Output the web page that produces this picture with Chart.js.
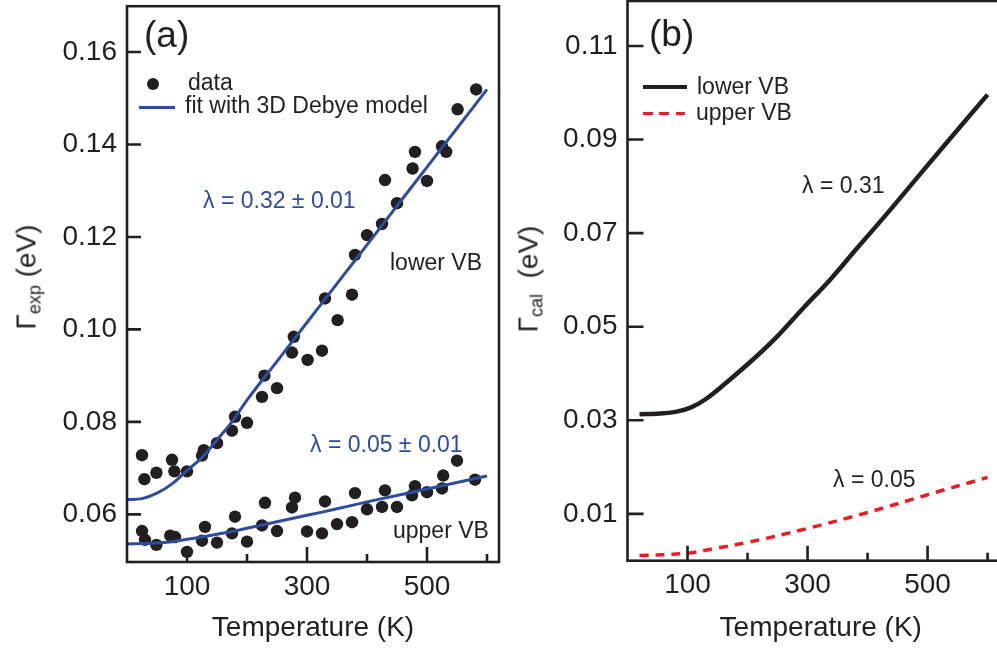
<!DOCTYPE html>
<html>
<head>
<meta charset="utf-8">
<script src="https://cdn.jsdelivr.net/npm/chart.js@4.4.1/dist/chart.umd.min.js"></script>
<style>
html, body { margin:0; padding:0; background:#fff; overflow:hidden; width:997px; height:651px; }
#wrap { position:relative; width:997px; height:651px; overflow:hidden; font-family:"Liberation Sans", Arial, sans-serif; color:#231f20; }
.box { position:absolute; top:0; height:651px; }
.lbl { position:absolute; white-space:nowrap; line-height:1; }
.ytitle { position:absolute; white-space:nowrap; line-height:1; font-size:28px; transform:translate(-50%,-50%) rotate(-90deg); }
.ytitle sub { font-size:18px; vertical-align:-5px; }
.mark { position:absolute; }
</style>
</head>
<body>
<div id="wrap">
  <div class="box" style="left:0;width:510px"><canvas id="chartA"></canvas></div>
  <div class="box" style="left:510px;width:504px"><canvas id="chartB"></canvas></div>
</div>
<script>
// (a) measured linewidths, lower VB
const lowerT     = [25, 29, 49, 75, 79, 100, 125, 128, 150, 175, 180, 200, 225, 229, 250, 275, 278, 301, 325, 330, 351, 375, 380, 400, 425, 430, 450, 476, 480, 500, 525, 532, 551, 582];
const lowerGamma = [0.0728, 0.0676, 0.0690, 0.0718, 0.0693, 0.0693, 0.0727, 0.0739, 0.0754, 0.0781, 0.0811, 0.0798, 0.0854, 0.0900, 0.0873, 0.0950, 0.0984, 0.0934, 0.0954, 0.1067, 0.1020, 0.1075, 0.1161, 0.1204, 0.1228, 0.1323, 0.1273, 0.1348, 0.1384, 0.1321, 0.1396, 0.1384, 0.1476, 0.1519];
// (a) measured linewidths, upper VB
const upperT     = [25, 30, 49, 72, 80, 100, 125, 130, 150, 175, 180, 200, 225, 230, 250, 275, 280, 300, 325, 330, 350, 375, 380, 400, 425, 430, 450, 475, 480, 500, 525, 527, 550, 580];
const upperGamma = [0.0564, 0.0545, 0.0534, 0.0554, 0.0551, 0.0519, 0.0543, 0.0573, 0.0539, 0.0559, 0.0595, 0.0541, 0.0576, 0.0625, 0.0564, 0.0615, 0.0636, 0.0563, 0.0559, 0.0628, 0.0579, 0.0583, 0.0646, 0.0611, 0.0616, 0.0652, 0.0616, 0.0641, 0.0661, 0.0648, 0.0656, 0.0684, 0.0716, 0.0675];
// (a) Debye fits
const fitT        = [0, 25, 50, 75, 100, 125, 150, 175, 200, 250, 300, 350, 400, 450, 500, 550, 600];
const lowerFit    = [0.0632, 0.0634, 0.0646, 0.0666, 0.0695, 0.0723, 0.0761, 0.0800, 0.0847, 0.0931, 0.1015, 0.1099, 0.1183, 0.1267, 0.1351, 0.1435, 0.1519];
const upperFit    = [0.0536, 0.0537, 0.0538, 0.0541, 0.0546, 0.0551, 0.0557, 0.0563, 0.0570, 0.0584, 0.0598, 0.0612, 0.0627, 0.0641, 0.0655, 0.0669, 0.0683];
// (b) calculated
const calLowerT     = [20, 50, 80, 105, 130, 165, 210, 250, 293, 338, 382, 426, 451, 525, 600];
const calLowerGamma = [0.0313, 0.0314, 0.0318, 0.0327, 0.0345, 0.0381, 0.0431, 0.0480, 0.0540, 0.0601, 0.0667, 0.0732, 0.0770, 0.0883, 0.0996];
const calUpperT     = [20, 100, 149, 200, 300, 400, 500, 600];
const calUpperGamma = [0.0011, 0.0016, 0.0027, 0.0039, 0.0069, 0.0103, 0.0141, 0.0178];
// ticks
const tempTicks   = [100, 200, 300, 400, 500, 600];
const tempLabels  = [100, 300, 500];
const gammaTicksA = [0.06, 0.08, 0.10, 0.12, 0.14, 0.16];
const gammaTicksB = [0.01, 0.03, 0.05, 0.07, 0.09, 0.11];

const ink = '#231f20', blue = '#2c4d9f', red = '#ed1c24';
const FONT = '"Liberation Sans", Arial, sans-serif';
const pts = (xs, ys) => xs.map((x, i) => ({ x, y: ys[i] }));

// frame box + inward tick marks
const frameTicks = {
  id: 'frameTicks',
  afterDraw(chart, args, opts) {
    const { ctx, chartArea: a, scales: { x, y } } = chart;
    ctx.save();
    ctx.strokeStyle = ink;
    ctx.lineWidth = 2.6;
    ctx.beginPath();
    tempTicks.forEach(t => {
      const px = x.getPixelForValue(t);
      const len = tempLabels.includes(t) ? 15 : 8;
      ctx.moveTo(px, a.bottom); ctx.lineTo(px, a.bottom - len);
    });
    opts.yTicks.forEach(v => {
      const py = y.getPixelForValue(v);
      ctx.moveTo(a.left, py); ctx.lineTo(a.left + opts.yLen, py);
    });
    ctx.stroke();
    ctx.strokeRect(a.left, a.top, a.right - a.left, a.bottom - a.top);
    ctx.restore();
  }
};

function makeScales(xMax, yMin, yMax, yTicks, xHeight, yWidth) {
  return {
    x: {
      type: 'linear', min: 0, max: xMax,
      afterFit: s => { s.height = xHeight; s.paddingLeft = 0; s.paddingRight = 0; },
      afterBuildTicks: s => { s.ticks = tempTicks.map(v => ({ value: v })); },
      grid: { display: false, drawTicks: false },
      border: { display: false },
      ticks: { autoSkip: false, maxRotation: 0, padding: 8, color: ink, font: { family: FONT, size: 28 },
               callback: v => tempLabels.includes(v) ? String(v) : '' },
      title: { display: true, text: 'Temperature (K)', color: ink, font: { family: FONT, size: 28 }, padding: { top: 0, bottom: 6 } }
    },
    y: {
      type: 'linear', min: yMin, max: yMax,
      afterFit: s => { s.width = yWidth; s.paddingTop = 0; s.paddingBottom = 0; },
      afterBuildTicks: s => { s.ticks = yTicks.map(v => ({ value: v })); },
      grid: { display: false, drawTicks: false },
      border: { display: false },
      ticks: { padding: 10, color: ink, font: { family: FONT, size: 28 }, callback: v => v.toFixed(2) }
    }
  };
}

new Chart(document.getElementById('chartA'), {
  type: 'scatter',
  data: {
    datasets: [
      { label: 'fit lower', data: pts(fitT, lowerFit), showLine: true, borderColor: blue, borderWidth: 3, pointRadius: 0, tension: 0.4, order: 0 },
      { label: 'fit upper', data: pts(fitT, upperFit), showLine: true, borderColor: blue, borderWidth: 3, pointRadius: 0, tension: 0.4, order: 0 },
      { label: 'lower VB', data: pts(lowerT, lowerGamma), backgroundColor: ink, borderWidth: 0, pointRadius: 6.2, order: 1 },
      { label: 'upper VB', data: pts(upperT, upperGamma), backgroundColor: ink, borderWidth: 0, pointRadius: 6.2, order: 1 }
    ]
  },
  options: {
    responsive: true, maintainAspectRatio: false, animation: false, devicePixelRatio: 1,
    layout: { padding: { top: 1, right: 11, left: 0, bottom: 0 } },
    plugins: { legend: { display: false }, tooltip: { enabled: false }, frameTicks: { yTicks: gammaTicksA, yLen: 14 } },
    scales: makeScales(620, 0.0497, 0.1699, gammaTicksA, 89, 127)
  },
  plugins: [frameTicks]
});

new Chart(document.getElementById('chartB'), {
  type: 'scatter',
  data: {
    datasets: [
      { label: 'lower VB', data: pts(calLowerT, calLowerGamma), showLine: true, borderColor: ink, borderWidth: 4.5, pointRadius: 0, tension: 0.4 },
      { label: 'upper VB', data: pts(calUpperT, calUpperGamma), showLine: true, borderColor: red, borderWidth: 3.5, borderDash: [9, 7], pointRadius: 0, tension: 0.4 }
    ]
  },
  options: {
    responsive: true, maintainAspectRatio: false, animation: false, devicePixelRatio: 1,
    layout: { padding: { top: 1, right: 0, left: 0, bottom: 0 } },
    plugins: { legend: { display: false }, tooltip: { enabled: false }, frameTicks: { yTicks: gammaTicksB, yLen: 16 } },
    scales: makeScales(644, 0, 0.1196, gammaTicksB, 90.3, 117.5)
  },
  plugins: [frameTicks]
});

// text overlays: x = left edge, y = baseline
const wrap = document.getElementById('wrap');
function addText(html, x, base, size, color) {
  const d = document.createElement('div');
  d.className = 'lbl';
  d.innerHTML = html;
  d.style.left = x + 'px';
  d.style.top = (base - 0.8465 * size) + 'px';
  d.style.fontSize = size + 'px';
  d.style.color = color || ink;
  wrap.appendChild(d);
}
function addMark(css) {
  const d = document.createElement('div');
  d.className = 'mark';
  d.style.cssText += css;
  wrap.appendChild(d);
}
function addYTitle(html, cx, cy) {
  const d = document.createElement('div');
  d.className = 'ytitle';
  d.innerHTML = html;
  d.style.left = cx + 'px';
  d.style.top = cy + 'px';
  wrap.appendChild(d);
}

// panel (a)
addText('(a)', 144, 47, 37);
addMark('left:147.3px;top:78.3px;width:12px;height:12px;border-radius:50%;background:' + ink);
addText('data', 188, 90.7, 23);
addMark('left:139px;top:105.8px;width:36px;height:3px;background:' + blue);
addText('fit with 3D Debye model', 185, 113.3, 23);
addText('λ = 0.32 ± 0.01', 203, 208.3, 23, blue);
addText('lower VB', 390, 270, 23);
addText('λ = 0.05 ± 0.01', 310, 452.7, 23, blue);
addText('upper VB', 393, 538, 23);
addYTitle('Γ<sub>exp</sub> (eV)', 28, 277);

// panel (b)
addText('(b)', 649, 46, 37);
addMark('left:643px;top:84.5px;width:44px;height:4.5px;background:' + ink);
addText('lower VB', 697, 94.3, 23);
addMark('left:643px;top:111.5px;width:42px;height:3.5px;background:repeating-linear-gradient(to right,' + red + ' 0 10px,transparent 10px 16.5px)');
addText('upper VB', 696, 120, 23);
addText('λ = 0.31', 802, 193.3, 23);
addText('λ = 0.05', 833, 487.3, 23);
addYTitle('Γ<sub>cal</sub>&nbsp; (eV)', 530, 279);
</script>
</body>
</html>
